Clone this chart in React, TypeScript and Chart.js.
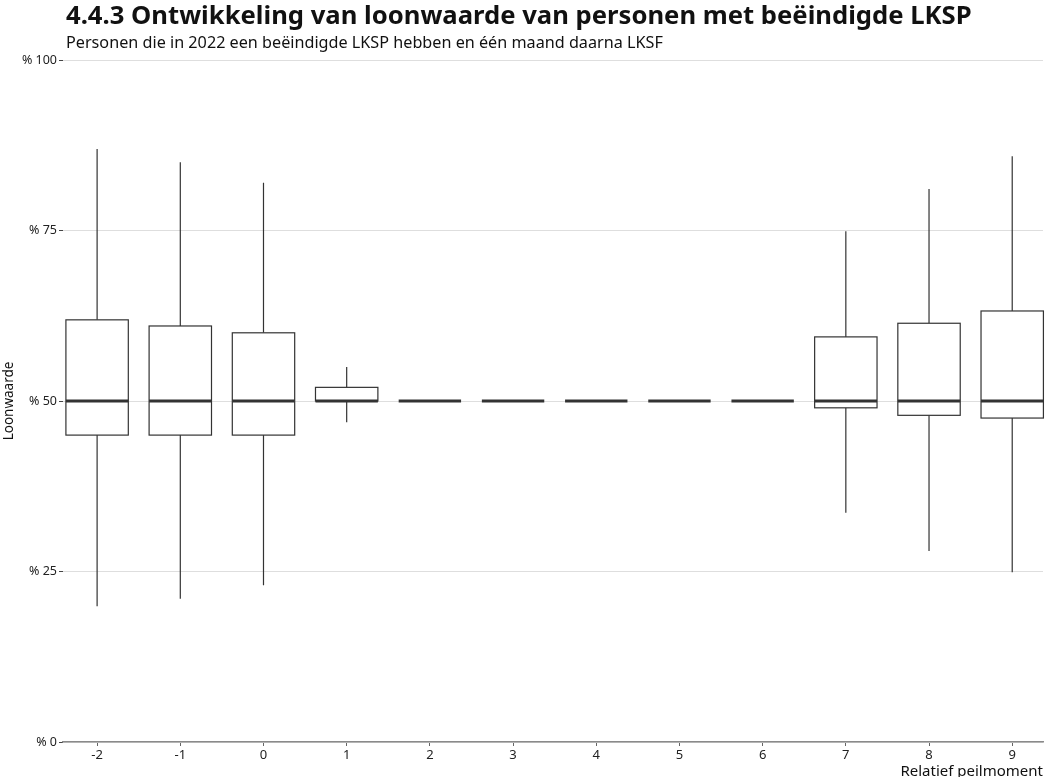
import React, { useEffect, useRef } from "react";
import { Chart, registerables } from "chart.js";

Chart.register(...registerables);

const TITLE = "4.4.3 Ontwikkeling van loonwaarde van personen met beëindigde LKSP";
const SUBTITLE = "Personen die in 2022 een beëindigde LKSP hebben en één maand daarna LKSF";
const X_TITLE = "Relatief peilmoment";
const Y_TITLE = "Loonwaarde";

const categories = ["-2", "-1", "0", "1", "2", "3", "4", "5", "6", "7", "8", "9"];
const positions = [-2, -1, 0, 1, 2, 3, 4, 5, 6, 7, 8, 9];
const whiskerLow = [19.9, 21.0, 23.0, 46.9, 50, 50, 50, 50, 50, 33.6, 28.0, 24.9];
const q1 = [45.0, 45.0, 45.0, 50, 50, 50, 50, 50, 50, 49.0, 47.9, 47.5];
const median = [50, 50, 50, 50, 50, 50, 50, 50, 50, 50, 50, 50];
const q3 = [61.9, 61.0, 60.0, 52.0, 50, 50, 50, 50, 50, 59.4, 61.4, 63.2];
const whiskerHigh = [86.95, 85.0, 82.0, 55.0, 50, 50, 50, 50, 50, 74.9, 81.1, 85.9];
const yTicks = [0, 25, 50, 75, 100];

const FONT = "'Noto Sans', sans-serif";

function fitFont(ctx: CanvasRenderingContext2D, text: string, weight: string, target: number) {
  ctx.font = `${weight} 100px ${FONT}`;
  const w = ctx.measureText(text).width;
  return (100 * target) / w;
}

const boxPlugin = {
  id: "boxplot",
  afterDatasetsDraw(chart: any) {
    const { ctx, scales } = chart;
    const x = scales.x;
    const y = scales.y;
    ctx.save();
    ctx.strokeStyle = "#333333";
    positions.forEach((p, i) => {
      const cx = x.getPixelForValue(p);
      const half = x.getPixelForValue(p + 0.375) - cx;
      const yLow = y.getPixelForValue(whiskerLow[i]);
      const yQ1 = y.getPixelForValue(q1[i]);
      const yMed = y.getPixelForValue(median[i]);
      const yQ3 = y.getPixelForValue(q3[i]);
      const yHigh = y.getPixelForValue(whiskerHigh[i]);
      ctx.lineWidth = 1.2;
      ctx.beginPath();
      ctx.moveTo(cx, yHigh);
      ctx.lineTo(cx, yQ3);
      ctx.moveTo(cx, yQ1);
      ctx.lineTo(cx, yLow);
      ctx.stroke();
      if (Math.abs(yQ1 - yQ3) > 0.5) {
        ctx.fillStyle = "#ffffff";
        ctx.fillRect(cx - half, yQ3, 2 * half, yQ1 - yQ3);
        ctx.lineWidth = 1.2;
        ctx.strokeRect(cx - half, yQ3, 2 * half, yQ1 - yQ3);
      }
      ctx.lineWidth = 3;
      ctx.beginPath();
      ctx.moveTo(cx - half, yMed);
      ctx.lineTo(cx + half, yMed);
      ctx.stroke();
    });
    ctx.restore();
  },
};

const textPlugin = {
  id: "headings",
  afterDraw(chart: any) {
    const { ctx } = chart;
    ctx.save();
    ctx.fillStyle = "#111111";
    ctx.textAlign = "left";
    ctx.textBaseline = "alphabetic";
    const ts = fitFont(ctx, TITLE, "bold", 906);
    ctx.font = `bold ${ts}px ${FONT}`;
    ctx.fillText(TITLE, 66, 24);
    const ss = fitFont(ctx, SUBTITLE, "normal", 597);
    ctx.font = `normal ${ss}px ${FONT}`;
    ctx.fillText(SUBTITLE, 66, 48);
    ctx.restore();
  },
};

export default function App() {
  const ref = useRef<HTMLCanvasElement | null>(null);
  useEffect(() => {
    if (!ref.current) return;
    const chart = new Chart(ref.current, {
      type: "scatter",
      data: {
        datasets: [
          {
            label: "Mediaan",
            data: positions.map((p, i) => ({ x: p, y: median[i] })),
            pointRadius: 0,
            showLine: false,
          },
        ],
      },
      options: {
        animation: false,
        responsive: false,
        layout: { padding: { top: 60, left: 0, right: 8, bottom: 0 } },
        plugins: {
          legend: { display: false },
          tooltip: { enabled: false },
          title: { display: false },
        },
        scales: {
          x: {
            type: "linear",
            min: -2.41,
            max: 9.37,
            afterFit: (s: any) => {
              s.height = 35;
            },
            afterBuildTicks: (s: any) => {
              s.ticks = positions.map((v) => ({ value: v }));
            },
            ticks: {
              autoSkip: false,
              maxRotation: 0,
              font: { family: FONT, size: 13 },
              color: "#222222",
              padding: 1,
              callback: (v: any) => {
                const idx = positions.indexOf(Number(v));
                return idx >= 0 ? categories[idx] : "";
              },
            },
            grid: {
              drawOnChartArea: false,
              drawTicks: true,
              tickLength: 4,
              tickColor: "#666666",
            },
            border: { display: true, color: "#8a8a8a", width: 1.5 },
            title: {
              display: true,
              text: X_TITLE,
              align: "end",
              font: { family: FONT, size: 15 },
              color: "#111111",
              padding: { top: 0, bottom: -4 },
            },
          },
          y: {
            type: "linear",
            min: 0,
            max: 100,
            afterFit: (s: any) => {
              s.width = 63;
            },
            afterBuildTicks: (s: any) => {
              s.ticks = yTicks.map((v) => ({ value: v }));
            },
            ticks: {
              font: { family: FONT, size: 12.5 },
              color: "#222222",
              padding: 2,
              callback: (v: any) => "% " + v,
            },
            grid: {
              color: "#dedede",
              lineWidth: 1,
              drawTicks: true,
              tickLength: 4,
              tickColor: "#444444",
            },
            border: { display: false },
            title: {
              display: true,
              text: Y_TITLE,
              font: { family: FONT, size: 13.5 },
              color: "#111111",
              padding: { top: 1, bottom: 0 },
            },
          },
        },
      },
      plugins: [boxPlugin, textPlugin],
    } as any);
    return () => chart.destroy();
  }, []);
  return (
    <div style={{ position: "fixed", top: 0, left: 0, width: 1051, height: 777, background: "#ffffff" }}>
      <canvas ref={ref} width={1051} height={777} style={{ display: "block" }} />
    </div>
  );
}
